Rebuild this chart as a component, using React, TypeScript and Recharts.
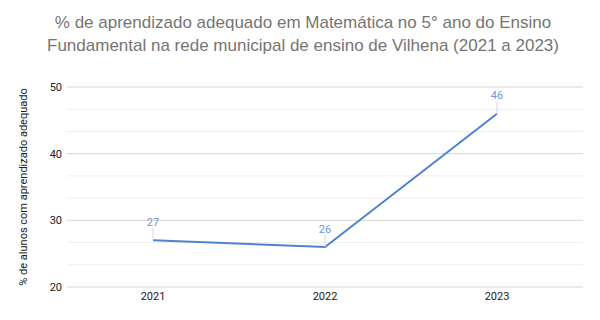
import React from "react";
import {
  LineChart,
  Line,
  XAxis,
  YAxis,
  CartesianGrid,
  ReferenceLine,
  LabelList,
} from "recharts";

const categories = ["2021", "2022", "2023"];
const seriesValues = [27, 26, 46];
const yTicks = [20, 30, 40, 50];
const minorTicks = [23.333, 26.667, 33.333, 36.667, 43.333, 46.667];

const titleLines = [
  "% de aprendizado adequado em Matemática no 5° ano do Ensino",
  "Fundamental na rede municipal de ensino de Vilhena (2021 a 2023)",
];
const yLabel = "% de alunos com aprendizado adequado";

const data = categories.map((c, i) => ({ year: c, value: seriesValues[i] }));

const renderLabel = (props: any) => {
  const { x, y, value } = props;
  return (
    <g>
      <line x1={x} x2={x} y1={y - 12} y2={y} stroke="#c9d8ee" strokeWidth={1} />
      <text
        x={x}
        y={y - 18}
        textAnchor="middle"
        dominantBaseline="central"
        fill="#6f97d4"
        fontSize={11}
        fontFamily="Roboto, Arial, sans-serif"
      >
        {value}
      </text>
    </g>
  );
};

export default function App() {
  return (
    <div
      style={{
        position: "absolute",
        left: 0,
        top: 0,
        width: 600,
        height: 320,
        background: "#fff",
        overflow: "hidden",
      }}
    >
      <svg
        width={600}
        height={70}
        style={{ position: "absolute", left: 0, top: 0 }}
      >
        {titleLines.map((t, i) => (
          <text
            key={i}
            x={303}
            y={28 + i * 23}
            textAnchor="middle"
            fill="#757575"
            fontSize={17}
            fontFamily="'Liberation Sans', Arial, sans-serif"
          >
            {t}
          </text>
        ))}
      </svg>
      <div style={{ position: "absolute", left: 0, top: 0 }}>
        <LineChart
          width={600}
          height={320}
          data={data}
          margin={{ top: 87, right: 17, bottom: 0, left: 0 }}
        >
          <CartesianGrid vertical={false} stroke="#d6d6d6" />
          {minorTicks.map((v) => (
            <ReferenceLine key={v} y={v} stroke="#efefef" />
          ))}
          <XAxis
            dataKey="year"
            height={33}
            axisLine={false}
            tickLine={false}
            tickSize={0}
            tickMargin={5}
            padding={{ left: 86, right: 86 }}
            tick={{ fill: "#222", fontSize: 11, fontFamily: "Roboto, Arial, sans-serif" }}
          />
          <YAxis
            width={67}
            domain={[20, 50]}
            ticks={yTicks}
            axisLine={false}
            tickLine={false}
            tickSize={0}
            tickMargin={5}
            tick={{ fill: "#222", fontSize: 11, fontFamily: "Roboto, Arial, sans-serif" }}
            label={{
              value: yLabel,
              angle: -90,
              position: "insideLeft",
              offset: 23,
              style: {
                textAnchor: "middle",
                fill: "#222",
                fontSize: 11,
                fontFamily: "Roboto, Arial, sans-serif",
              },
            }}
          />
          <Line
            type="linear"
            dataKey="value"
            stroke="#4f82d1"
            strokeWidth={2}
            dot={false}
            isAnimationActive={false}
          >
            <LabelList dataKey="value" content={renderLabel} />
          </Line>
        </LineChart>
      </div>
    </div>
  );
}
